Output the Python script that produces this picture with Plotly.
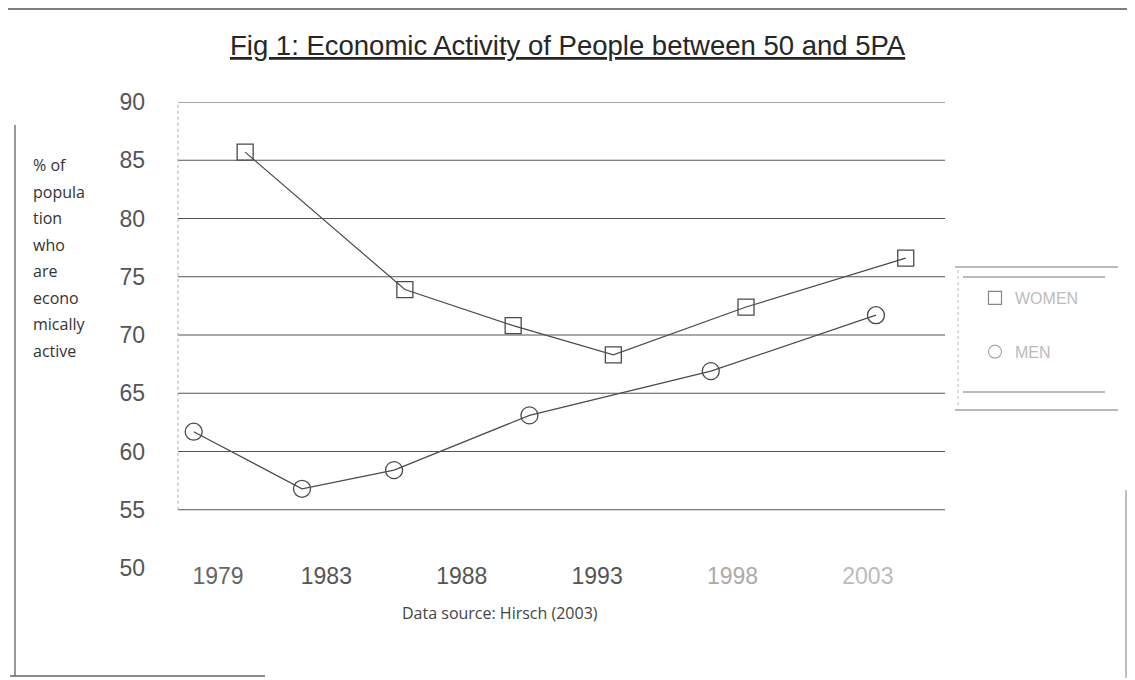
import plotly.graph_objects as go

# ---------------- data ----------------
women_years = [1980.0, 1985.9, 1989.9, 1993.6, 1998.5, 2004.4]
women_vals = [85.7, 73.9, 70.8, 68.3, 72.4, 76.6]
men_years = [1978.1, 1982.1, 1985.5, 1990.5, 1997.2, 2003.3]
men_vals = [61.7, 56.8, 58.4, 63.1, 66.9, 71.7]

x_ticks = [1979, 1983, 1988, 1993, 1998, 2003]
x_tick_colors = ["#666", "#555", "#555", "#555", "#aaa", "#bbb"]
y_ticks = [50, 55, 60, 65, 70, 75, 80, 85, 90]

title_text = "Fig 1: Economic Activity of People between 50 and 5PA"
y_title_lines = ["% of", "popula", "tion", "who", "are", "econo", "mically", "active"]
source_text = "Data source: Hirsch (2003)"

# ---------------- layout geometry (page pixels; page has an 8px body margin) ----------------
OFF = 8
W, H = 1135 - OFF, 680 - OFF
PL, PR, PT, PB = 178, 945, 102, 568          # plot box in page pixels
ML, MR, MT, MB = PL - OFF, W - (PR - OFF), PT - OFF, H - (PB - OFF)
PW, PH = W - ML - MR, H - MT - MB


def px(x):
    return (x - OFF - ML) / PW


def py(y):
    return (H - MB - (y - OFF)) / PH


FONT = "Liberation Sans, Arial, sans-serif"
SANS = "Open Sans, DejaVu Sans, sans-serif"
LINE = "#4a4a4a"

fig = go.Figure()

fig.add_trace(go.Scatter(
    x=women_years, y=women_vals, mode="lines+markers", name="WOMEN",
    line=dict(color=LINE, width=1.2),
    marker=dict(symbol="square-open", size=16, color=LINE, line=dict(width=1.3)),
    showlegend=False,
))
fig.add_trace(go.Scatter(
    x=men_years, y=men_vals, mode="lines+markers", name="MEN",
    line=dict(color=LINE, width=1.2),
    marker=dict(symbol="circle-open", size=17, color=LINE, line=dict(width=1.3)),
    showlegend=False,
))
# legend-only entries (marker only, as in the reference)
fig.add_trace(go.Scatter(
    x=[None], y=[None], mode="markers", name="WOMEN", legendgroup="w",
    marker=dict(symbol="square-open", size=13, color="#888", line=dict(width=1.2)),
))
fig.add_trace(go.Scatter(
    x=[None], y=[None], mode="markers", name="MEN", legendgroup="m",
    marker=dict(symbol="circle-open", size=13, color="#aaa", line=dict(width=1.2)),
))

shapes = []
# horizontal gridlines (top one acts as the plot's upper border)
for v in y_ticks[1:]:
    shapes.append(dict(type="line", xref="paper", yref="y", x0=0, x1=1, y0=v, y1=v,
                       line=dict(color="#555", width=1.2)))
# faint dotted left border
shapes.append(dict(type="line", xref="paper", yref="y", x0=0, x1=0,
                   y0=y_ticks[1], y1=y_ticks[-1],
                   line=dict(color="#aaa", width=1, dash="dot")))
# legend frame lines
for (x0, x1, y0) in [(955, 1118, 267), (963, 1105, 277), (963, 1105, 392), (955, 1118, 410)]:
    shapes.append(dict(type="line", xref="paper", yref="paper",
                       x0=px(x0), x1=px(x1), y0=py(y0), y1=py(y0),
                       line=dict(color="#777", width=1.2)))
shapes.append(dict(type="line", xref="paper", yref="paper",
                   x0=px(958), x1=px(958), y0=py(270), y1=py(405),
                   line=dict(color="#bbb", width=1, dash="dot")))
# outer page frame fragments from the scan
frame = [
    (8, 9, 1127, 9, "#555"),
    (15, 125, 15, 676, "#777"),
    (10, 676, 265, 676, "#666"),
    (1126, 490, 1126, 678, "#aaa"),
]
for x0, y0, x1, y1, c in frame:
    shapes.append(dict(type="line", xref="paper", yref="paper",
                       x0=px(x0), x1=px(x1), y0=py(y0), y1=py(y1),
                       line=dict(color=c, width=1.5)))

annotations = []
# title (underlined)
annotations.append(dict(
    text="<u>" + title_text + "</u>", xref="paper", yref="paper",
    x=px(568), y=py(45), xanchor="center", yanchor="middle", showarrow=False,
    font=dict(family=FONT, size=27.5, color="#262626"),
))
# y axis title, one line per annotation to match the wide line spacing
for i, line in enumerate(y_title_lines):
    annotations.append(dict(
        text=line, xref="paper", yref="paper",
        x=px(31), y=py(165 + i * 26.5), xanchor="left", yanchor="middle",
        showarrow=False, font=dict(family=SANS, size=16, color="#333"),
    ))
# data source note
annotations.append(dict(
    text=source_text, xref="paper", yref="paper",
    x=px(500), y=py(613), xanchor="center", yanchor="middle", showarrow=False,
    font=dict(family=SANS, size=16, color="#444"),
))

tick_text = [f"<span style='color:{c}'>{t}</span>" for t, c in zip(x_ticks, x_tick_colors)]

fig.update_layout(
    width=W, height=H,
    margin=dict(l=ML, r=MR, t=MT, b=MB),
    paper_bgcolor="white", plot_bgcolor="white",
    xaxis=dict(
        range=[1977.52, 2005.85], tickmode="array", tickvals=x_ticks, ticktext=tick_text,
        showgrid=False, zeroline=False, showline=False, ticks="",
        ticklabelstandoff=-8,
        tickfont=dict(family=FONT, size=23, color="#555"),
    ),
    yaxis=dict(
        range=[50, 90], tickmode="array", tickvals=y_ticks,
        showgrid=False, zeroline=False, showline=False, ticks="",
        ticklabelstandoff=32,
        tickfont=dict(family=FONT, size=23, color="#555"),
    ),
    legend=dict(
        x=px(975), y=py(281), xanchor="left", yanchor="top",
        bgcolor="rgba(0,0,0,0)", tracegroupgap=30,
        font=dict(family=FONT, size=16, color="#bbb"),
    ),
    shapes=shapes,
    annotations=annotations,
)

fig.write_html("out.html")
